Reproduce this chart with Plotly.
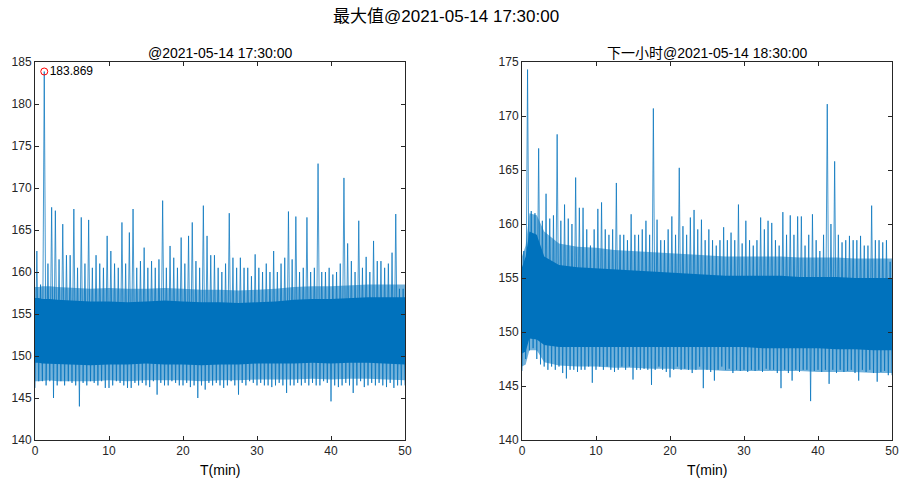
import plotly.graph_objects as go

# ---------------- data ----------------
# per 0.5-min bin: maximum and minimum of the signal (left panel: hour with max)
left_hi = [162.5, 158.5, 183.869, 161, 167.7, 167.3, 161.5, 165.7, 162, 162,
           167.5, 160.5, 166.5, 161, 166.2, 160.5, 162, 161, 160.5, 164.3,
           162.5, 161, 160.5, 165.9, 161, 164.7, 167.5, 160.5, 161.3, 162.9,
           160.5, 161.3, 160.5, 161.5, 168.5, 160.5, 163.1, 161.7, 160.5, 164.1,
           161, 164.3, 165.9, 161.3, 160.5, 167.9, 164.3, 162, 162, 160.5,
           160, 161, 167, 161.7, 160.5, 161.7, 160.5, 160.5, 159.5, 162.1,
           160.5, 160, 161, 160, 162.5, 160, 161, 161.7, 167.2, 161.5,
           166.6, 160, 160.5, 166.5, 160, 160.5, 172.9, 160, 160, 160.5,
           159.7, 160, 161, 171.2, 163.4, 161.3, 160, 166.1, 160.5, 161.8,
           160, 163.7, 161.3, 161.3, 160.5, 161, 162.3, 166.9, 158, 158]
left_lo = [146.2, 147, 147, 146.5, 147, 145, 146.5, 147, 146.5, 147,
           146.8, 146.5, 144, 146.8, 146.5, 147, 146.8, 146.5, 147, 146.2,
           146.2, 146.5, 147, 146.8, 146.5, 146.2, 146.2, 146.8, 146.5, 146.8,
           146.5, 146.3, 147, 145.4, 146.8, 146.5, 146.5, 147, 146.8, 146.5,
           146.5, 146.8, 146.3, 146.5, 145, 146.5, 146, 146.8, 146.5, 146.8,
           146.5, 146.2, 146.5, 147, 146.5, 145.4, 146.8, 146.5, 147, 146.8,
           146.5, 146.8, 146.5, 146.5, 146.3, 146.5, 146.8, 146.5, 145.6, 146.5,
           146.5, 146.8, 146.5, 146.8, 146.5, 146.8, 146.5, 146.5, 147, 146.8,
           144.6, 146.5, 146.3, 146.5, 146.8, 146.5, 145.6, 146.5, 147, 146.3,
           146.5, 146.8, 146.5, 146.8, 146.5, 146.3, 146.8, 146.2, 146.5, 146.5]

# right panel: next hour
right_hi = [157.5, 174.3, 161.2, 161, 167, 160.3, 162.8, 160.5, 160.8, 168.3,
            160.3, 161.8, 160.5, 160, 164.3, 161.5, 161.5, 159.5, 158, 159.5,
            161.4, 162, 159.5, 159, 159.5, 163.8, 159, 159, 158.5, 160.9,
            159, 159, 159.5, 160.3, 159, 170.7, 160.4, 158.5, 158.5, 159.5,
            160.7, 159, 165.2, 159.8, 159, 160.6, 161.3, 159.5, 160.4, 158.5,
            159.5, 158.5, 158, 158.5, 159.7, 158.5, 159.2, 158.5, 161.8, 158.2,
            160.3, 158.5, 158, 158.5, 160.6, 159.5, 160.3, 160.1, 158.5, 158,
            161.1, 159, 160.8, 159, 160.7, 160.7, 158, 159, 160.9, 158.5,
            157.5, 159, 171.1, 160, 165.8, 159, 158.3, 158.5, 158.9, 158.5,
            158.5, 158.9, 158, 158, 161.7, 158.5, 158.5, 158.3, 158.5, 156.5]
right_lo = [146.4, 147.5, 148.3, 148.5, 147.5, 147, 146.8, 146.5, 146.8, 146.5,
            146.8, 146.2, 145.7, 146.5, 146.5, 146.3, 146.5, 146.5, 146.8, 145.3,
            146.5, 146.8, 146.5, 146.8, 146.5, 146.3, 146.5, 146.8, 146.5, 146.8,
            145.6, 146.5, 146.5, 146.6, 146.5, 145.1, 146.5, 146.8, 146.5, 146.3,
            145.8, 146.5, 146.8, 146.5, 146.6, 146.5, 146.2, 146.5, 146.8, 144.8,
            146.5, 146.3, 145.5, 146.5, 146.8, 146.5, 146.6, 146.2, 146.5, 146.4,
            146.5, 146.3, 146.5, 146.4, 146.5, 146.3, 146.6, 146.5, 146.5, 146.2,
            144.8, 146.5, 146.2, 145.5, 146.5, 146.3, 146.5, 146.5, 143.6, 146.4,
            146.5, 146.3, 146.5, 145.2, 146.5, 146.2, 146.5, 146.3, 146.4, 146.5,
            146.2, 145.5, 146.5, 146.3, 146.5, 146.2, 145.4, 146.3, 146.4, 146.0]

# dense core of the band and its lighter fringe, at these times (min)
band_t = [0, 0.5, 1, 2, 3, 5, 7.5, 10, 12.5, 15, 17.5, 20, 22.5, 25, 27.5, 30,
          32.5, 35, 37.5, 40, 42.5, 45, 47.5, 50]
left_core_hi = [156.9, 156.9, 156.8, 156.8, 156.7, 156.6, 156.5, 156.5, 156.4, 156.5, 156.6, 156.5,
                156.4, 156.4, 156.3, 156.4, 156.5, 156.7, 156.8, 156.8, 156.9, 157, 157, 157]
left_core_lo = [149.2, 149.2, 149.1, 149.1, 149.0, 149.0, 148.9, 149.0, 149.0, 149.1, 149.0, 149.0,
                148.9, 149.0, 149.0, 149.1, 149.1, 149.1, 149.2, 149.1, 149.2, 149.2, 149.1, 149.0]
left_fringe_hi = [158.2, 158.2, 158.3, 158.3, 158.2, 158.1, 158.0, 158.1, 158.0, 158.0, 158.1, 158.0,
                  157.9, 157.9, 157.8, 157.9, 158.0, 158.2, 158.3, 158.3, 158.4, 158.5, 158.5, 158.5]
left_fringe_lo = [147.0, 147.0, 147.0, 147.1, 147.0, 147.0, 147.0, 147.1, 147.0, 147.1, 147.1, 147.1,
                  147.0, 147.1, 147.1, 147.2, 147.2, 147.2, 147.3, 147.2, 147.3, 147.3, 147.2, 147.1]

right_core_hi = [156.0, 157.0, 159.3, 159.0, 157.0, 156.2, 156.0, 155.9, 155.8, 155.7, 155.6, 155.5,
                 155.4, 155.3, 155.2, 155.2, 155.2, 155.2, 155.1, 155.1, 155.1, 155.0, 155.0, 155.0]
right_core_lo = [148.0, 148.2, 149.4, 149.3, 148.8, 148.6, 148.6, 148.6, 148.6, 148.6, 148.6, 148.6,
                 148.6, 148.6, 148.6, 148.6, 148.5, 148.5, 148.5, 148.5, 148.4, 148.4, 148.3, 148.3]
right_fringe_hi = [157.0, 158.0, 161.0, 160.8, 159.3, 158.2, 157.9, 157.8, 157.6, 157.5, 157.4, 157.3,
                   157.2, 157.1, 157.0, 157.0, 157.0, 157.0, 156.9, 156.9, 156.9, 156.8, 156.8, 156.8]
right_fringe_lo = [146.8, 147.0, 148.3, 148.3, 147.2, 146.9, 146.8, 146.8, 146.7, 146.7, 146.6, 146.6,
                   146.5, 146.5, 146.4, 146.4, 146.4, 146.4, 146.4, 146.3, 146.3, 146.3, 146.2, 146.2]

bin_start = [0.5 * i for i in range(100)]
max_t, max_v = 1.25, 183.869

x_ticks = [0, 10, 20, 30, 40, 50]
left_y_ticks = [140, 145, 150, 155, 160, 165, 170, 175, 180, 185]
right_y_ticks = [140, 145, 150, 155, 160, 165, 170, 175]

suptitle = "最大值@2021-05-14 17:30:00"
left_title = "@2021-05-14 17:30:00"
right_title = "下一小时@2021-05-14 18:30:00"
x_label = "T(min)"

# ---------------- figure ----------------
BLUE = "#0072BD"
LIGHT = "rgba(0,114,189,0.55)"
SPIKE = "rgba(0,114,189,0.72)"
AX = "#262626"
FONT = "Liberation Sans, Arial, Noto Sans CJK SC, sans-serif"
W, H = 901, 484


def zigzag(hi, lo):
    xs, ys = [], []
    for t0, h, l in zip(bin_start, hi, lo):
        xs += [t0, t0 + 0.25]
        ys += [l, h]
    xs.append(50)
    ys.append(lo[-1])
    return xs, ys


def band(upper, lower):
    return band_t + band_t[::-1], upper + lower[::-1]


fig = go.Figure()
panels = [(left_hi, left_lo, left_core_hi, left_core_lo, left_fringe_hi, left_fringe_lo),
          (right_hi, right_lo, right_core_hi, right_core_lo, right_fringe_hi, right_fringe_lo)]
for k, (hi, lo, chi, clo, fhi, flo) in enumerate(panels):
    xa = "x" if k == 0 else "x2"
    ya = "y" if k == 0 else "y2"
    bx, by = band(fhi, flo)
    fig.add_trace(go.Scatter(x=bx, y=by, fill="toself", fillcolor=LIGHT, line=dict(width=0),
                             mode="lines", hoverinfo="skip", xaxis=xa, yaxis=ya, showlegend=False))
    zx, zy = zigzag(hi, lo)
    fig.add_trace(go.Scatter(x=zx, y=zy, mode="lines", line=dict(color=SPIKE, width=1),
                             hoverinfo="skip", xaxis=xa, yaxis=ya, showlegend=False))
    bx, by = band(chi, clo)
    fig.add_trace(go.Scatter(x=bx, y=by, fill="toself", fillcolor=BLUE, line=dict(width=0),
                             mode="lines", hoverinfo="skip", xaxis=xa, yaxis=ya, showlegend=False))

fig.add_trace(go.Scatter(x=[max_t], y=[max_v], mode="markers+text",
                         marker=dict(symbol="circle-open", color="#FF0000", size=7, line=dict(width=1)),
                         text=[f"{max_v:.3f}"], textposition="middle right",
                         textfont=dict(family=FONT, size=12, color="#000000"),
                         hoverinfo="skip", xaxis="x", yaxis="y", showlegend=False))

ax_common = dict(showline=True, linecolor=AX, linewidth=1, mirror="ticks", ticks="inside",
                 ticklen=4, tickcolor=AX, showgrid=False, zeroline=False, automargin=False,
                 tickfont=dict(family=FONT, size=12, color=AX))


def px_x(x):
    return x / W


def px_y(y):
    return 1 - y / H


ydom = [px_y(440), px_y(62)]
L0, L1, R0, R1 = px_x(35), px_x(405), px_x(522), px_x(892)


def ann(text, xc, ypx, size):
    return dict(text=text, x=xc, y=px_y(ypx), xref="paper", yref="paper", showarrow=False,
                xanchor="center", yanchor="middle", font=dict(family=FONT, size=size, color="#000000"))


fig.update_layout(
    width=W, height=H, margin=dict(l=0, r=0, t=0, b=0, autoexpand=False),
    paper_bgcolor="white", plot_bgcolor="white", hovermode=False,
    xaxis=dict(domain=[L0, L1], range=[0, 50], tickvals=x_ticks, anchor="y", **ax_common),
    yaxis=dict(domain=ydom, range=[140, 185], tickvals=left_y_ticks, anchor="x", **ax_common),
    xaxis2=dict(domain=[R0, R1], range=[0, 50], tickvals=x_ticks, anchor="y2", **ax_common),
    yaxis2=dict(domain=ydom, range=[140, 175], tickvals=right_y_ticks, anchor="x2", **ax_common),
    annotations=[
        ann(suptitle, px_x(446), 16, 17),
        ann(left_title, (L0 + L1) / 2, 53, 14),
        ann(right_title, (R0 + R1) / 2, 53, 14),
        ann(x_label, (L0 + L1) / 2, 470, 14),
        ann(x_label, (R0 + R1) / 2, 470, 14),
    ],
)

# remove the default 8 px page margin so the 901x484 figure fills the window exactly
fig.write_html("out.html", config={"displayModeBar": False},
               post_script="document.body.style.margin='0px';")
